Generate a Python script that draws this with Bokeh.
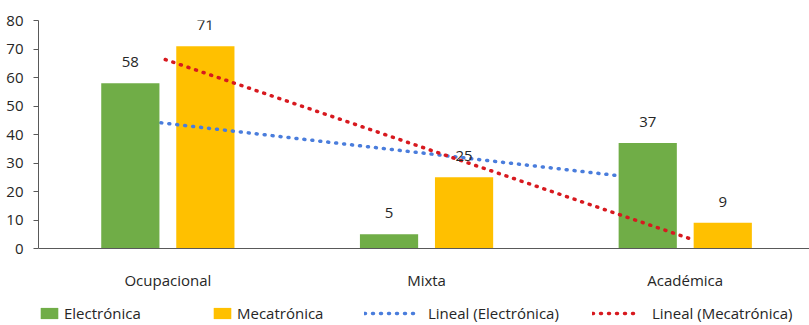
import numpy as np
from bokeh.plotting import figure
from bokeh.models import (ColumnDataSource, FixedTicker, LabelSet, Legend, LegendItem, Range1d)
from bokeh.core.properties import value
from bokeh.embed import file_html
from bokeh.resources import INLINE

# ---- data ----
categories = ["Ocupacional", "Mixta", "Académica"]
electronica = [58, 5, 37]
mecatronica = [71, 25, 9]
y_ticks = [0, 10, 20, 30, 40, 50, 60, 70, 80]

FONT = "Open Sans"
GREEN = "#70AD47"
YELLOW = "#FFC000"
BLUE = "#4A7DDC"
RED = "#D7191F"
AXIS = "#595959"
TXT = "#262626"

n = len(categories)
centers = np.arange(n) + 0.5
off = 0.145
bw = 0.225

px_per_unit = 228 / 80.0
y_start = -(325 - 248) / px_per_unit

p = figure(width=809, height=325, output_backend="svg", toolbar_location=None,
           x_range=Range1d(0, 771 / 258.7), y_range=Range1d(y_start, 80),
           min_border_left=38, min_border_right=0, min_border_top=20, min_border_bottom=0)
p.outline_line_color = None
p.xgrid.visible = False
p.ygrid.visible = False
p.background_fill_color = "white"
p.border_fill_color = "white"

src_e = ColumnDataSource(dict(x=centers - off, top=electronica, lab=[str(v) for v in electronica]))
src_m = ColumnDataSource(dict(x=centers + off, top=mecatronica, lab=[str(v) for v in mecatronica]))

# linear trend lines (least squares fit on category index 1..n)
xi = np.arange(1, n + 1)
se, ie = np.polyfit(xi, electronica, 1)
sm, im = np.polyfit(xi, mecatronica, 1)
te = np.array([0.85, 2.95])
tm = np.array([0.99, 3.03])

r_m = p.vbar(x="x", top="top", width=bw, source=src_m, fill_color=YELLOW, line_color=None)
r_te = p.line(te - 0.5, se * te + ie, line_color=BLUE, line_width=3.5, line_dash="1 7", line_cap="round")
r_e = p.vbar(x="x", top="top", width=bw, source=src_e, fill_color=GREEN, line_color=None)
r_tm = p.line(tm - 0.5, sm * tm + im, line_color=RED, line_width=3.5, line_dash="1 7", line_cap="round")

for src in (src_e, src_m):
    p.add_layout(LabelSet(x="x", y="top", text="lab", source=src, y_offset=21,
                          text_align="center", text_baseline="middle",
                          text_font=value(FONT), text_font_size="15px", text_color=TXT))

# axes
p.xaxis.fixed_location = 0
p.xaxis.ticker = FixedTicker(ticks=list(centers))
p.xaxis.major_label_overrides = {float(c): cat for c, cat in zip(centers, categories)}
p.xaxis.major_tick_line_color = None
p.xaxis.minor_tick_line_color = None
p.xaxis.axis_line_color = AXIS
p.xaxis.major_label_standoff = 15
p.xaxis.major_label_text_font = FONT
p.xaxis.major_label_text_font_size = "15px"
p.xaxis.major_label_text_color = TXT

p.yaxis.bounds = (0, 80)
p.yaxis.ticker = FixedTicker(ticks=y_ticks)
p.yaxis.axis_line_color = AXIS
p.yaxis.major_tick_line_color = AXIS
p.yaxis.major_tick_out = 5
p.yaxis.major_tick_in = 0
p.yaxis.minor_tick_line_color = None
p.yaxis.major_label_standoff = 10
p.yaxis.major_label_text_font = FONT
p.yaxis.major_label_text_font_size = "15px"
p.yaxis.major_label_text_color = TXT

# legend: separate single-item legends at absolute positions (inside the frame)
def add_leg(label, rend, x, gw, standoff):
    leg = Legend(items=[LegendItem(label=label, renderers=[rend])], location=(x, 2),
                 orientation="horizontal", padding=0, margin=0, spacing=0,
                 glyph_width=gw, glyph_height=14, label_height=14, label_standoff=standoff,
                 border_line_color=None, background_fill_alpha=0,
                 label_text_font=FONT, label_text_font_size="15px", label_text_color=TXT,
                 label_text_baseline="middle")
    p.add_layout(leg)

add_leg("Electrónica", r_e, 0, 22, 4)
add_leg("Mecatrónica", r_m, 173, 22, 4)
add_leg("Lineal (Electrónica)", r_te, 326, 52, 12)
add_leg("Lineal (Mecatrónica)", r_tm, 554, 46, 14)

open("out.html", "w").write(file_html(p, INLINE))
